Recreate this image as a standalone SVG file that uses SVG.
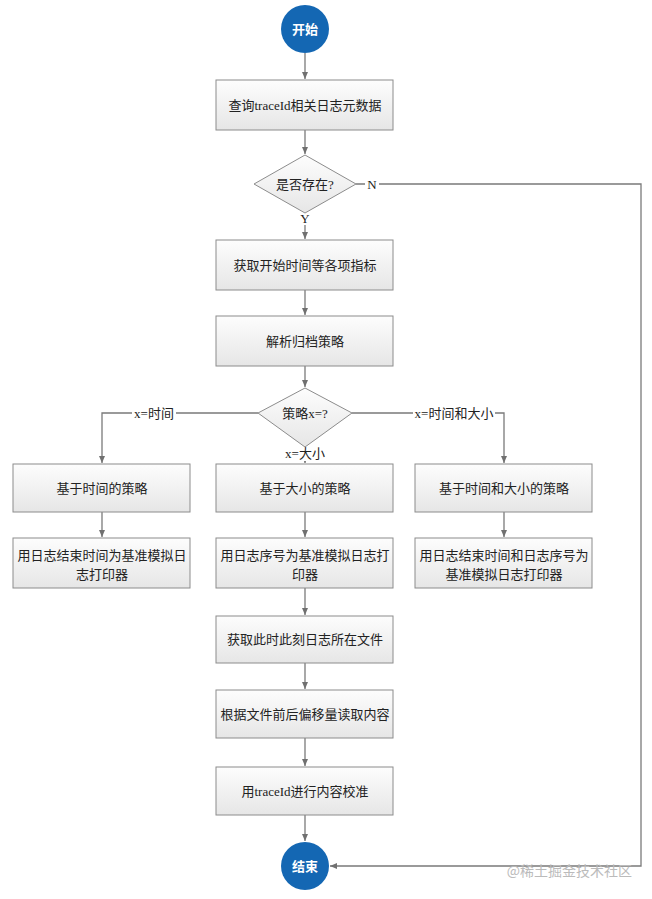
<svg xmlns="http://www.w3.org/2000/svg" width="652" height="899" viewBox="0 0 652 899">
<defs>
<linearGradient id="g" x1="0" y1="0" x2="0" y2="1"><stop offset="0" stop-color="#fdfdfd"/><stop offset="1" stop-color="#e6e6e6"/></linearGradient>
<marker id="a" markerWidth="8" markerHeight="8" refX="7" refY="4" orient="auto" markerUnits="userSpaceOnUse"><path d="M0,1 L7,4 L0,7 Z" fill="#707070"/></marker>
<style>
.b{fill:url(#g);stroke:#8c8c8c;stroke-width:1}
.c{fill:#1467b3}
.t{font-family:"Liberation Serif","Noto Sans CJK SC",serif;font-size:13px;fill:#222;text-anchor:middle}
.w{font-family:"Noto Sans CJK SC",sans-serif;font-size:13px;fill:#fff;text-anchor:middle;font-weight:bold}
.l{fill:none;stroke:#7a7a7a;stroke-width:1.3;marker-end:url(#a)}
</style>
</defs>
<rect width="652" height="899" fill="#fff"/>
<g id="connectors">
<path class="l" d="M305,53 V79"/>
<path class="l" d="M305,130 V154"/>
<path class="l" d="M305,213 V239"/>
<path class="l" d="M305,290 V315"/>
<path class="l" d="M305,366 V387"/>
<path class="l" d="M258,413 H102 V463"/>
<path class="l" d="M305,447 V463"/>
<path class="l" d="M352,413 H504 V463"/>
<path class="l" d="M102,512 V537"/>
<path class="l" d="M305,512 V537"/>
<path class="l" d="M504,512 V537"/>
<path class="l" d="M305,588 V615"/>
<path class="l" d="M305,663 V689"/>
<path class="l" d="M305,738 V766"/>
<path class="l" d="M305,815 V841"/>
<path class="l" d="M356,184 H641 V866 H330"/>
<rect x="365" y="177" width="14" height="14" fill="#fff"/>
<text class="t" x="372" y="189">N</text>
<rect x="298" y="212" width="14" height="13" fill="#fff"/>
<text class="t" x="305" y="223">Y</text>
<rect x="132" y="406" width="44" height="14" fill="#fff"/>
<text class="t" x="154" y="418">x=时间</text>
<rect x="413" y="406" width="82" height="14" fill="#fff"/>
<text class="t" x="454" y="418">x=时间和大小</text>
<rect x="283" y="447" width="44" height="14" fill="#fff"/>
<text class="t" x="305" y="458">x=大小</text>
</g>
<g id="start"><circle class="c" cx="305" cy="29" r="24"/><text class="w" x="305" y="34">开始</text></g>
<g id="query"><rect class="b" x="216" y="80" width="177" height="50"/><text class="t" x="305" y="110">查询traceId相关日志元数据</text></g>
<g id="exists"><path class="b" d="M305,155 L356,184 L305,213 L254,184 Z"/><text class="t" x="305" y="189">是否存在?</text></g>
<g id="metrics"><rect class="b" x="216" y="240" width="177" height="50"/><text class="t" x="305" y="270">获取开始时间等各项指标</text></g>
<g id="parse"><rect class="b" x="216" y="316" width="177" height="50"/><text class="t" x="305" y="346">解析归档策略</text></g>
<g id="strategy"><path class="b" d="M305,388 L352,413 L305,447 L258,413 Z"/><text class="t" x="305" y="418">策略x=?</text></g>
<g id="time"><rect class="b" x="13" y="464" width="177" height="48"/><text class="t" x="102" y="493">基于时间的策略</text></g>
<g id="size"><rect class="b" x="216" y="464" width="177" height="48"/><text class="t" x="305" y="493">基于大小的策略</text></g>
<g id="both"><rect class="b" x="415" y="464" width="177" height="48"/><text class="t" x="504" y="493">基于时间和大小的策略</text></g>
<g id="time2"><rect class="b" x="13" y="538" width="177" height="50"/><text class="t" x="102" y="560">用日志结束时间为基准模拟日</text><text class="t" x="102" y="579">志打印器</text></g>
<g id="size2"><rect class="b" x="216" y="538" width="177" height="50"/><text class="t" x="305" y="560">用日志序号为基准模拟日志打</text><text class="t" x="305" y="579">印器</text></g>
<g id="both2"><rect class="b" x="415" y="538" width="177" height="50"/><text class="t" x="504" y="560">用日志结束时间和日志序号为</text><text class="t" x="504" y="579">基准模拟日志打印器</text></g>
<g id="file"><rect class="b" x="216" y="616" width="177" height="47"/><text class="t" x="305" y="644">获取此时此刻日志所在文件</text></g>
<g id="read"><rect class="b" x="216" y="690" width="177" height="48"/><text class="t" x="305" y="719">根据文件前后偏移量读取内容</text></g>
<g id="verify"><rect class="b" x="216" y="767" width="177" height="48"/><text class="t" x="305" y="796">用traceId进行内容校准</text></g>
<g id="end"><circle class="c" cx="305" cy="866" r="24"/><text class="w" x="305" y="871">结束</text></g>
<text x="632" y="876" font-family="Noto Sans CJK SC,sans-serif" font-size="14" fill="#bbb" text-anchor="end">@稀土掘金技术社区</text>
</svg>
